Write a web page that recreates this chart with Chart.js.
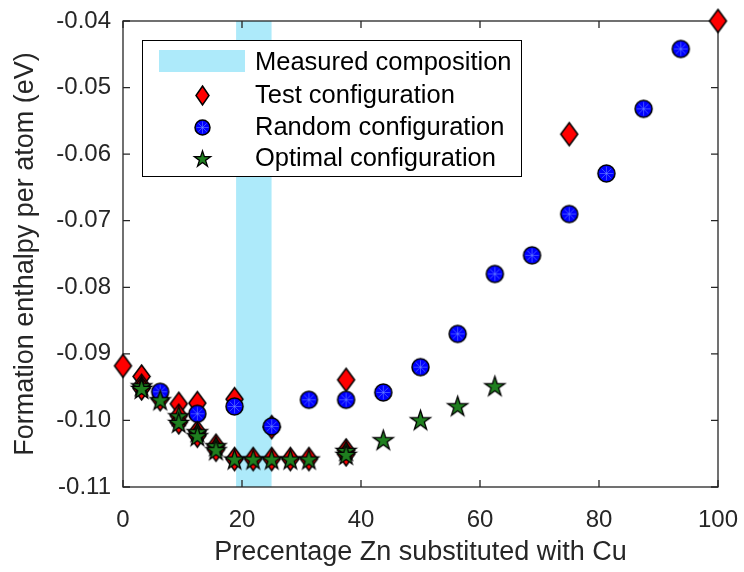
<!DOCTYPE html>
<html><head><meta charset="utf-8">
<script src="https://cdn.jsdelivr.net/npm/chart.js@4"></script>
<style>html,body{margin:0;padding:0;background:#fff}#wrap{width:744px;height:572px}</style>
</head><body><div id="wrap"><canvas id="c" width="744" height="572"></canvas></div>
<script>
// ---- data ----
const xTicks = [0, 20, 40, 60, 80, 100];
const xTickLabels = ['0', '20', '40', '60', '80', '100'];
const yTicks = [-0.11, -0.10, -0.09, -0.08, -0.07, -0.06, -0.05, -0.04];
const yTickLabels = ['-0.11', '-0.10', '-0.09', '-0.08', '-0.07', '-0.06', '-0.05', '-0.04'];

const measuredX = [19, 25];
const measuredTop = [-0.04, -0.04];

const testX = [0, 3.125, 3.125, 3.125, 6.25, 9.375, 9.375, 9.375, 12.5, 12.5, 12.5, 15.625, 15.625,
  18.75, 18.75, 21.875, 25, 25, 28.125, 31.25, 37.5, 37.5, 37.5, 75, 100];
const testY = [-0.0918, -0.0934, -0.0948, -0.0952, -0.0968, -0.0975, -0.0993, -0.1003, -0.0974, -0.1017, -0.1023, -0.1038, -0.1044,
  -0.0968, -0.1058, -0.1058, -0.1010, -0.1058, -0.1058, -0.1058, -0.0939, -0.1045, -0.1051, -0.0570, -0.0400];

const randomX = [6.25, 12.5, 18.75, 25, 31.25, 37.5, 43.75, 50, 56.25, 62.5, 68.75, 75, 81.25, 87.5, 93.75];
const randomY = [-0.0957, -0.0990, -0.0979, -0.1009, -0.0969, -0.0969, -0.0958, -0.0920, -0.0870, -0.0780, -0.0752, -0.0690, -0.0629, -0.0532, -0.0442];

const optimalX = [3.125, 3.125, 6.25, 9.375, 9.375, 12.5, 12.5, 15.625, 15.625, 18.75, 21.875, 25, 28.125, 31.25, 37.5, 37.5, 43.75, 50, 56.25, 62.5];
const optimalY = [-0.0948, -0.0952, -0.0969, -0.0993, -0.1003, -0.1017, -0.1023, -0.1038, -0.1044, -0.1058, -0.1058, -0.1058, -0.1058, -0.1058, -0.1045, -0.1051, -0.1029, -0.0999, -0.0978, -0.0948];

const labels = ['Measured composition', 'Test configuration', 'Random configuration', 'Optimal configuration'];

// ---- styles ----
const FONT = "'Liberation Sans', Arial, Helvetica, sans-serif";
const AXIS_COLOR = '#262626';
const BAND_COLOR = '#adeafa';

function mk(w, h) { const c = document.createElement('canvas'); c.width = w; c.height = h; return c; }
function diamond(w, h) {
  const c = mk(Math.ceil(w) + 4, Math.ceil(h) + 4), g = c.getContext('2d');
  const cx = c.width / 2, cy = c.height / 2;
  g.beginPath(); g.moveTo(cx, cy - h / 2); g.lineTo(cx + w / 2, cy); g.lineTo(cx, cy + h / 2); g.lineTo(cx - w / 2, cy); g.closePath();
  g.fillStyle = '#ff0000'; g.fill(); g.lineWidth = 1.5; g.strokeStyle = '#000'; g.stroke();
  return c;
}
function circle(r) {
  const s = Math.ceil(2 * r) + 4, c = mk(s, s), g = c.getContext('2d');
  const cx = s / 2, cy = s / 2;
  g.beginPath(); g.arc(cx, cy, r, 0, Math.PI * 2); g.fillStyle = '#0000ff'; g.fill();
  g.strokeStyle = 'rgba(120,150,255,0.75)'; g.lineWidth = 0.7;
  for (let k = 0; k < 4; k++) { const a = k * Math.PI / 4; g.beginPath();
    g.moveTo(cx - Math.cos(a) * r * 0.8, cy - Math.sin(a) * r * 0.8); g.lineTo(cx + Math.cos(a) * r * 0.8, cy + Math.sin(a) * r * 0.8); g.stroke(); }
  g.beginPath(); g.arc(cx, cy, r, 0, Math.PI * 2); g.lineWidth = 1.5; g.strokeStyle = '#000'; g.stroke();
  return c;
}
function star(R) {
  const s = Math.ceil(2 * R) + 4, c = mk(s, s), g = c.getContext('2d');
  const cx = s / 2, cy = s / 2 + R * 0.1, ri = R * 0.382;
  g.beginPath();
  for (let k = 0; k < 10; k++) { const rr = k % 2 ? ri : R; const a = -Math.PI / 2 + k * Math.PI / 5;
    const px = cx + rr * Math.cos(a), py = cy + rr * Math.sin(a); k ? g.lineTo(px, py) : g.moveTo(px, py); }
  g.closePath(); g.fillStyle = '#1f7f1f'; g.fill(); g.lineWidth = 1.3; g.strokeStyle = '#000'; g.stroke();
  return c;
}
const mDiamond = diamond(17, 23), mCircle = circle(8.5), mStar = star(10.5);
const lDiamond = diamond(13, 19), lCircle = circle(7.5), lStar = star(8.5);

const toPts = (xs, ys) => xs.map((x, i) => ({ x, y: ys[i] }));

const framePlugin = {
  id: 'frame',
  beforeDatasetDraw(chart, args) {
    if (args.index !== 1) return;
    const { ctx, chartArea: a, scales: { x, y } } = chart;
    ctx.save();
    ctx.strokeStyle = AXIS_COLOR; ctx.lineWidth = 1.3;
    ctx.strokeRect(a.left, a.top, a.right - a.left, a.bottom - a.top);
    const L = 7;
    ctx.beginPath();
    xTicks.forEach(v => { const p = x.getPixelForValue(v);
      ctx.moveTo(p, a.bottom); ctx.lineTo(p, a.bottom - L); ctx.moveTo(p, a.top); ctx.lineTo(p, a.top + L); });
    yTicks.forEach(v => { const p = y.getPixelForValue(v);
      ctx.moveTo(a.left, p); ctx.lineTo(a.left + L, p); ctx.moveTo(a.right, p); ctx.lineTo(a.right - L, p); });
    ctx.stroke();
    ctx.restore();
  }
};

const legendPlugin = {
  id: 'boxLegend',
  afterDraw(chart) {
    const { ctx } = chart;
    const bx = 142, by = 40, bw = 379, bh = 136;
    ctx.save();
    ctx.fillStyle = '#fff'; ctx.fillRect(bx, by, bw, bh);
    ctx.strokeStyle = '#000'; ctx.lineWidth = 1; ctx.strokeRect(bx + 0.5, by + 0.5, bw, bh);
    const rows = [62, 95, 127, 158];
    const mx = 202;
    ctx.fillStyle = BAND_COLOR; ctx.fillRect(159, 50, 86, 22);
    const icons = [null, lDiamond, lCircle, lStar];
    chart.data.datasets.forEach((ds, i) => {
      const ic = icons[i];
      if (ic) ctx.drawImage(ic, Math.round(mx - ic.width / 2), Math.round(rows[i] - ic.height / 2));
      ctx.fillStyle = '#000'; ctx.font = '25.5px ' + FONT; ctx.textBaseline = 'middle'; ctx.textAlign = 'left';
      ctx.fillText(ds.label, 255, rows[i] + 1);
    });
    ctx.restore();
  }
};

new Chart(document.getElementById('c'), {
  type: 'scatter',
  data: {
    datasets: [
      { label: labels[0], type: 'line', data: toPts(measuredX, measuredTop), fill: 'start', backgroundColor: BAND_COLOR,
        borderWidth: 0, borderColor: 'rgba(0,0,0,0)', pointRadius: 0, order: 10, clip: false },
      { label: labels[1], data: toPts(testX, testY), pointStyle: mDiamond, pointRadius: 9, order: 3, clip: false },
      { label: labels[2], data: toPts(randomX, randomY), pointStyle: mCircle, pointRadius: 9, order: 2, clip: false },
      { label: labels[3], data: toPts(optimalX, optimalY), pointStyle: mStar, pointRadius: 9, order: 1, clip: false }
    ]
  },
  options: {
    responsive: false, animation: false, devicePixelRatio: 1,
    layout: { autoPadding: false, padding: { top: 21, right: 26, left: 0, bottom: 0 } },
    plugins: { legend: { display: false }, tooltip: { enabled: false } },
    scales: {
      x: {
        type: 'linear', min: 0, max: 100,
        afterBuildTicks: s => { s.ticks = xTicks.map(v => ({ value: v })); },
        afterFit: s => { s.height = 85; s.paddingLeft = 0; s.paddingRight = 0; },
        grid: { display: false, drawTicks: false }, border: { display: false },
        ticks: { padding: 19, color: AXIS_COLOR, font: { family: FONT, size: 24 }, maxRotation: 0,
          callback: (v) => xTickLabels[xTicks.indexOf(v)] },
        title: { display: true, text: 'Precentage Zn substituted with Cu', color: AXIS_COLOR,
          font: { family: FONT, size: 27 }, padding: { top: 0, bottom: 3 } }
      },
      y: {
        type: 'linear', min: -0.11, max: -0.04,
        afterBuildTicks: s => { s.ticks = yTicks.map(v => ({ value: v })); },
        afterFit: s => { s.width = 123; s.paddingTop = 0; s.paddingBottom = 0; },
        grid: { display: false, drawTicks: false }, border: { display: false },
        ticks: { padding: 12, color: AXIS_COLOR, font: { family: FONT, size: 24 },
          callback: (v) => { const i = yTicks.findIndex(t => Math.abs(t - v) < 1e-9); return i >= 0 ? yTickLabels[i] : ''; } },
        title: { display: true, text: 'Formation enthalpy per atom (eV)', color: AXIS_COLOR,
          font: { family: FONT, size: 27 }, padding: { top: 9, bottom: 0 } }
      }
    }
  },
  plugins: [framePlugin, legendPlugin]
});
</script></body></html>
